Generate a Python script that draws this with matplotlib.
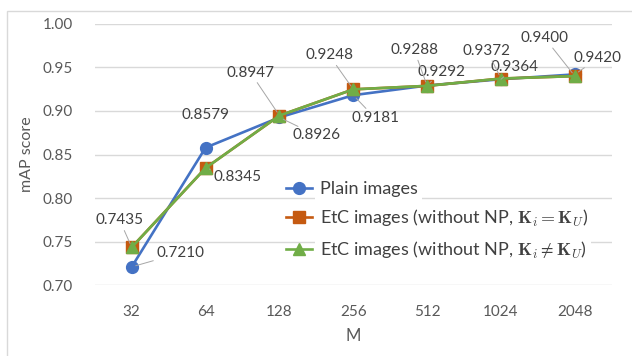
import matplotlib.pyplot as plt
from matplotlib.patches import Rectangle

plt.rcParams['font.family'] = ['Lato', 'DejaVu Sans']
plt.rcParams['mathtext.fontset'] = 'cm'

# mAP vs M
M = ['32', '64', '128', '256', '512', '1024', '2048']
plain = [0.7210, 0.8579, 0.8926, 0.9181, 0.9292, 0.9364, 0.9420]
etc_same = [0.7435, 0.8345, 0.8947, 0.9248, 0.9288, 0.9372, 0.9400]
etc_diff = [0.7435, 0.8345, 0.8947, 0.9248, 0.9288, 0.9372, 0.9400]

# label offsets in pixels (dx, dy)
plain_off = [(49, 14), (0, 33), (37, -18), (22, -23), (14, 14), (14, 12), (23, 16)]
etc_off = [(-12, 27), (32, -9), (-29, 43), (-24, 34), (-13, 36), (-14, 28), (-30, 38)]

fig = plt.figure(figsize=(6.32, 3.56), dpi=100)
ax = fig.add_axes([0.150, 0.199, 0.818, 0.734])

x = range(len(M))
ax.plot(x, plain, '-o', color='#4472C4', lw=1.9, ms=8.5, label='Plain images', zorder=3)
ax.plot(x, etc_same, '-s', color='#C55A11', lw=1.9, ms=8, label=r'EtC images (without NP, $\mathbf{K}_i = \mathbf{K}_U$)', zorder=4)
ax.plot(x, etc_diff, '-^', color='#70AD47', lw=1.9, ms=8.5, label=r'EtC images (without NP, $\mathbf{K}_i \neq \mathbf{K}_U$)', zorder=5)

def label(vals, offs, leader):
    for i, (v, (dx, dy)) in enumerate(zip(vals, offs)):
        arrow = None
        if leader[i]:
            arrow = dict(arrowstyle='-', color='#A6A6A6', lw=0.7, shrinkB=3)
        ax.annotate(f'{v:.4f}', (i, v), xytext=(dx, dy), textcoords='offset pixels',
                    ha='center', va='center', fontsize=11, color='#404040',
                    bbox=dict(boxstyle='square,pad=0.05', fc='none', ec='none'),
                    arrowprops=arrow, zorder=6)

label(plain, plain_off, [1, 0, 1, 1, 1, 1, 1])
label(etc_same, etc_off, [1, 1, 1, 1, 1, 1, 1])

ax.set_xlim(-0.5, len(M) - 0.5)
ax.set_ylim(0.70, 1.00)
ax.set_yticks([0.70, 0.75, 0.80, 0.85, 0.90, 0.95, 1.00])
ax.set_yticklabels([f'{t:.2f}' for t in ax.get_yticks()])
ax.set_xticks(list(x))
ax.set_xticklabels(M)
ax.grid(axis='y', color='#D9D9D9', lw=1)
ax.set_axisbelow(True)
for s in ax.spines.values():
    s.set_visible(False)
ax.tick_params(length=0, labelsize=11, labelcolor='#595959', pad=14)
ax.tick_params(axis='y', pad=16)
ax.set_xlabel('M', fontsize=12, color='#595959', labelpad=7)
ax.set_ylabel('mAP score', fontsize=11.5, color='#595959', labelpad=6)

leg = ax.legend(loc='upper left', bbox_to_anchor=(0.36, 0.42), fontsize=13,
                frameon=False, handlelength=1.4, handletextpad=0.45,
                labelspacing=0.6, borderpad=0.3, borderaxespad=0)
for t in leg.get_texts():
    t.set_color('#404040')
    t.set_bbox(dict(boxstyle='square,pad=0.25', fc='white', ec='none'))

fig.patches.append(Rectangle((7 / 632, -0.2), 1.2, 1.2 - 11 / 356,
                             transform=fig.transFigure, fill=False,
                             ec='#D9D9D9', lw=1))

fig.savefig('out.png', dpi=100)
